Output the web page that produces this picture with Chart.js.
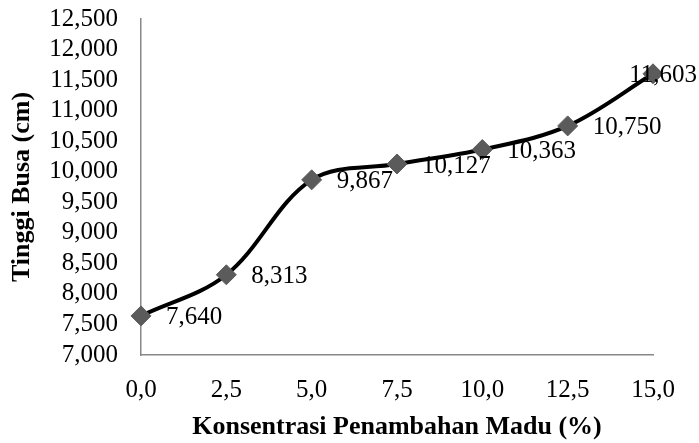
<!DOCTYPE html>
<html lang="id">
<head>
    <meta charset="UTF-8">
    <title>Tinggi Busa</title>
    <script src="https://cdn.jsdelivr.net/npm/chart.js"></script>
    <style>
        html, body { margin: 0; padding: 0; background: #fff; }
    </style>
</head>
<body>
    <canvas id="busaChart" width="699" height="443"></canvas>

    <script>
        // data
        const konsentrasi = [0, 2.5, 5, 7.5, 10, 12.5, 15];
        const tinggiBusa = [7.640, 8.313, 9.867, 10.127, 10.363, 10.750, 11.603];
        const yMin = 7.0, yMax = 12.5, yStep = 0.5;
        const xMin = 0, xMax = 15, xStep = 2.5;

        const serif = "'Liberation Serif', 'Times New Roman', serif";

        // format angka gaya Indonesia: koma sebagai desimal
        const fmt = (v, d) => v.toFixed(d).replace('.', ',');

        // label nilai di kanan tiap titik
        const labelNilai = {
            id: 'labelNilai',
            afterDatasetsDraw(chart) {
                const ctx = chart.ctx;
                const meta = chart.getDatasetMeta(0);
                ctx.save();
                ctx.font = '25px ' + serif;
                ctx.fillStyle = '#000';
                ctx.textAlign = 'left';
                ctx.textBaseline = 'middle';
                meta.data.forEach((pt, i) => {
                    const txt = fmt(tinggiBusa[i], 3);
                    const w = ctx.measureText(txt).width;
                    let x = pt.x + 25;
                    if (x + w > chart.width - 2) x = chart.width - 2 - w;
                    ctx.fillText(txt, x, pt.y + 2);
                });
                ctx.restore();
            }
        };

        const ctx = document.getElementById('busaChart').getContext('2d');
        new Chart(ctx, {
            type: 'line',
            data: {
                datasets: [{
                    data: konsentrasi.map((k, i) => ({ x: k, y: tinggiBusa[i] })),
                    borderColor: '#000',
                    borderWidth: 4,
                    tension: 0.35,
                    fill: false,
                    clip: false,
                    pointStyle: 'rectRot',
                    pointRadius: 10,
                    pointBackgroundColor: '#5b5b5b',
                    pointBorderColor: '#5b5b5b',
                    pointBorderWidth: 1
                }]
            },
            options: {
                responsive: false,
                animation: false,
                events: [],
                layout: { padding: { left: 0, right: 46, top: 19, bottom: 0 } },
                plugins: {
                    legend: { display: false },
                    tooltip: { enabled: false }
                },
                scales: {
                    x: {
                        type: 'linear',
                        min: xMin,
                        max: xMax,
                        afterFit: s => {
                            s.height = 88;
                            s.paddingLeft = 0;
                            s.paddingRight = 0;
                        },
                        grid: { display: false, drawTicks: false },
                        border: { display: true, color: '#888', width: 1.5 },
                        ticks: {
                            stepSize: xStep,
                            autoSkip: false,
                            maxRotation: 0,
                            padding: 20,
                            color: '#000',
                            font: { family: serif, size: 25 },
                            callback: v => fmt(v, 1)
                        },
                        title: {
                            display: true,
                            text: 'Konsentrasi Penambahan Madu (%)',
                            color: '#000',
                            font: { family: serif, size: 26, weight: 'bold' },
                            padding: { top: 0, bottom: 0 }
                        }
                    },
                    y: {
                        min: yMin,
                        max: yMax,
                        afterFit: s => {
                            s.width = 141;
                            s.paddingTop = 0;
                            s.paddingBottom = 0;
                        },
                        grid: { display: false, drawTicks: false },
                        border: { display: true, color: '#888', width: 1.5 },
                        ticks: {
                            stepSize: yStep,
                            autoSkip: false,
                            padding: 23,
                            color: '#000',
                            font: { family: serif, size: 25 },
                            callback: v => fmt(v, 3)
                        },
                        title: {
                            display: true,
                            text: 'Tinggi Busa (cm)',
                            color: '#000',
                            font: { family: serif, size: 26, weight: 'bold' },
                            padding: { top: 7, bottom: 0 }
                        }
                    }
                }
            },
            plugins: [labelNilai]
        });
    </script>
</body>
</html>
